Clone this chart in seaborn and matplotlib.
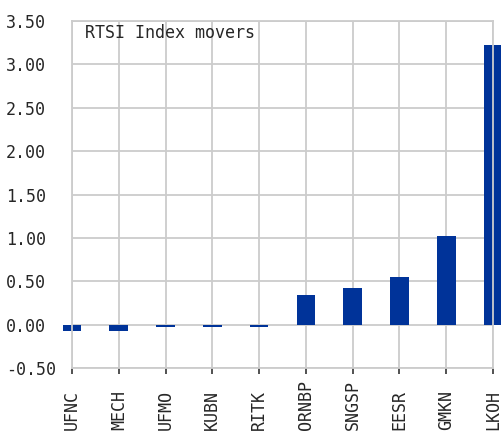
import seaborn as sns
import matplotlib
matplotlib.use("Agg")
import matplotlib.pyplot as plt
from matplotlib.ticker import FormatStrFormatter, MultipleLocator


TICKERS = ["UFNC", "MECH", "UFMO", "KUBN", "RITK", "ORNBP", "SNGSP", "EESR", "GMKN", "LKOH"]
CHANGES = [-0.07, -0.07, -0.03, -0.03, -0.03, 0.34, 0.42, 0.55, 1.02, 3.22]
TITLE = "RTSI Index movers"

BAR_COLOR = "#003399"
GRID_COLOR = "#cccccc"


sns.set_style("white")
plt.rcParams["font.family"] = ["DejaVu Sans Mono", "DejaVu Sans"]
plt.rcParams["font.size"] = 12


def plot_movers(tickers, changes):
    fig = plt.figure(figsize=(5.02, 4.32), dpi=100)
    ax = fig.add_axes([72 / 502, 1 - 368 / 432, 421 / 502, 347 / 432])
    sns.barplot(x=tickers, y=changes, color=BAR_COLOR, saturation=1,
                width=0.4, linewidth=0, ax=ax)
    for patch in ax.patches:
        patch.set_clip_on(False)

    ax.set_xlim(0, len(tickers) - 1)
    ax.set_ylim(-0.5, 3.5)
    ax.yaxis.set_major_locator(MultipleLocator(0.5))
    ax.yaxis.set_major_formatter(FormatStrFormatter("%.2f"))

    ax.grid(True, color=GRID_COLOR, linewidth=1.3)
    ax.set_axisbelow(True)
    for spine in ax.spines.values():
        spine.set_color(GRID_COLOR)
        spine.set_linewidth(1.3)

    ax.tick_params(axis="y", length=0, pad=47.5, labelsize=12)
    for label in ax.get_yticklabels():
        label.set_horizontalalignment("left")

    ax.tick_params(axis="x", length=4.5, width=1.2, color="#333333",
                   pad=40, labelsize=12, bottom=True)
    for label in ax.get_xticklabels():
        label.set_rotation(90)
        label.set_verticalalignment("bottom")
        label.set_horizontalalignment("center")

    ax.text(0.031, 0.965, TITLE, transform=ax.transAxes,
            ha="left", va="center", fontsize=12)
    ax.set_xlabel("")
    ax.set_ylabel("")
    return fig


fig = plot_movers(TICKERS, CHANGES)
fig.savefig("out.png", dpi=100)
